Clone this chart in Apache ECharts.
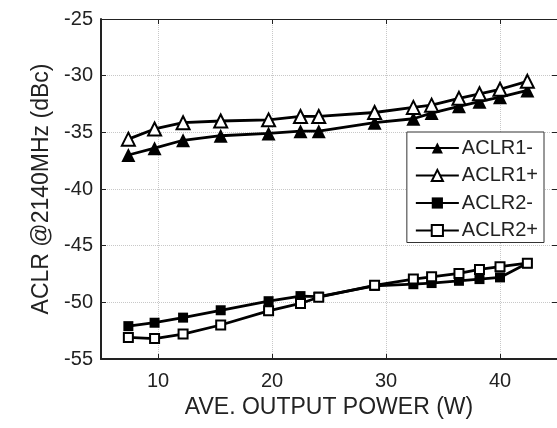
<!DOCTYPE html>
<html>
<head>
<meta charset="utf-8">
<script src="https://cdn.jsdelivr.net/npm/echarts@6/dist/echarts.min.js"></script>
<style>
  html, body { margin: 0; padding: 0; background: #fff; }
  #main { width: 557px; height: 428px; }
</style>
</head>
<body>
<div id="main"></div>
<script>
// output power (W)
var power = [7.4, 9.7, 12.2, 15.5, 19.7, 22.5, 24.1, 29.0, 32.4, 34.0, 36.4, 38.2, 40.0, 42.4];
// ACLR values (dBc)
var aclr1Minus = [-37.0, -36.4, -35.7, -35.3, -35.1, -34.9, -34.9, -34.15, -33.8, -33.3, -32.7, -32.3, -31.9, -31.3];
var aclr1Plus  = [-35.6, -34.7, -34.15, -34.0, -33.9, -33.6, -33.6, -33.25, -32.8, -32.6, -32.0, -31.6, -31.2, -30.5];
var aclr2Minus = [-52.1, -51.8, -51.35, -50.7, -49.9, -49.45, -49.5, -48.55, -48.4, -48.3, -48.1, -47.95, -47.8, -46.55];
var aclr2Plus  = [-53.1, -53.2, -52.8, -52.0, -50.75, -50.1, -49.55, -48.5, -47.95, -47.75, -47.45, -47.1, -46.85, -46.55];
var xTicks = [10, 20, 30, 40];

function pairs(ys) {
  var out = [];
  for (var i = 0; i < power.length; i++) out.push([power[i], ys[i]]);
  return out;
}

var txt = '#222';
var font = 'Arial, "Liberation Sans", sans-serif';

function line(name, ys, symbol, size, filled) {
  return {
    name: name,
    type: 'line',
    data: pairs(ys),
    symbol: symbol,
    symbolSize: size,
    showAllSymbol: true,
    lineStyle: { color: '#000', width: 2.8 },
    itemStyle: { color: filled ? '#000' : '#fff', borderColor: '#000', borderWidth: filled ? 0 : 2 },
    emphasis: { disabled: true },
    animation: false,
    z: 3
  };
}

var myChart = echarts.init(document.getElementById('main'));
var option = {
  backgroundColor: '#fff',
  textStyle: { fontFamily: font },
  grid: { left: 101, right: 0, top: 19, bottom: 69 },
  legend: {
    orient: 'vertical',
    right: 13,
    top: 132,
    backgroundColor: '#fff',
    borderColor: '#333',
    borderWidth: 1,
    padding: [6, 6, 2, 8],
    itemWidth: 43,
    itemHeight: 14,
    itemGap: 7.5,
    textStyle: { color: txt, fontSize: 20, fontFamily: font, padding: [0, 0, 0, -2] },
    data: ['ACLR1-', 'ACLR1+', 'ACLR2-', 'ACLR2+']
  },
  xAxis: [{
    type: 'value',
    min: 5,
    max: 45,
    name: 'AVE. OUTPUT POWER (W)',
    nameLocation: 'middle',
    nameGap: 32,
    nameTextStyle: { color: txt, fontSize: 23, fontFamily: font },
    axisLine: { lineStyle: { color: '#222', width: 2 } },
    axisTick: { inside: true, length: 5, customValues: xTicks, lineStyle: { color: '#222' } },
    axisLabel: { customValues: xTicks, color: txt, fontSize: 20, margin: 12 },
    splitLine: { show: true, lineStyle: { color: '#c8c8c8', type: 'dotted', width: 1 } }
  }, {
    type: 'value',
    position: 'top',
    min: 5,
    max: 45,
    axisLine: { show: true, lineStyle: { color: '#222', width: 1 } },
    axisTick: { inside: true, length: 5, customValues: xTicks, lineStyle: { color: '#222' } },
    axisLabel: { show: false },
    splitLine: { show: false }
  }],
  yAxis: [{
    type: 'value',
    min: -55,
    max: -25,
    interval: 5,
    name: 'ACLR @2140MHz (dBc)',
    nameLocation: 'middle',
    nameGap: 44,
    nameTextStyle: { color: txt, fontSize: 23, fontFamily: font },
    axisLine: { show: true, lineStyle: { color: '#222', width: 2 } },
    axisTick: { show: true, inside: true, length: 5, lineStyle: { color: '#222' } },
    axisLabel: { color: txt, fontSize: 20, margin: 8 },
    splitLine: { show: true, lineStyle: { color: '#c8c8c8', type: 'dotted', width: 1 } }
  }, {
    type: 'value',
    position: 'right',
    min: -55,
    max: -25,
    interval: 5,
    axisLine: { show: true, lineStyle: { color: '#222', width: 1 } },
    axisTick: { show: true, inside: true, length: 5, lineStyle: { color: '#222' } },
    axisLabel: { show: false },
    splitLine: { show: false }
  }],
  series: [
    line('ACLR1-', aclr1Minus, 'triangle', 14, true),
    line('ACLR1+', aclr1Plus, 'triangle', 13, false),
    line('ACLR2-', aclr2Minus, 'rect', 10, true),
    line('ACLR2+', aclr2Plus, 'rect', 9, false)
  ]
};
myChart.setOption(option);
</script>
</body>
</html>
